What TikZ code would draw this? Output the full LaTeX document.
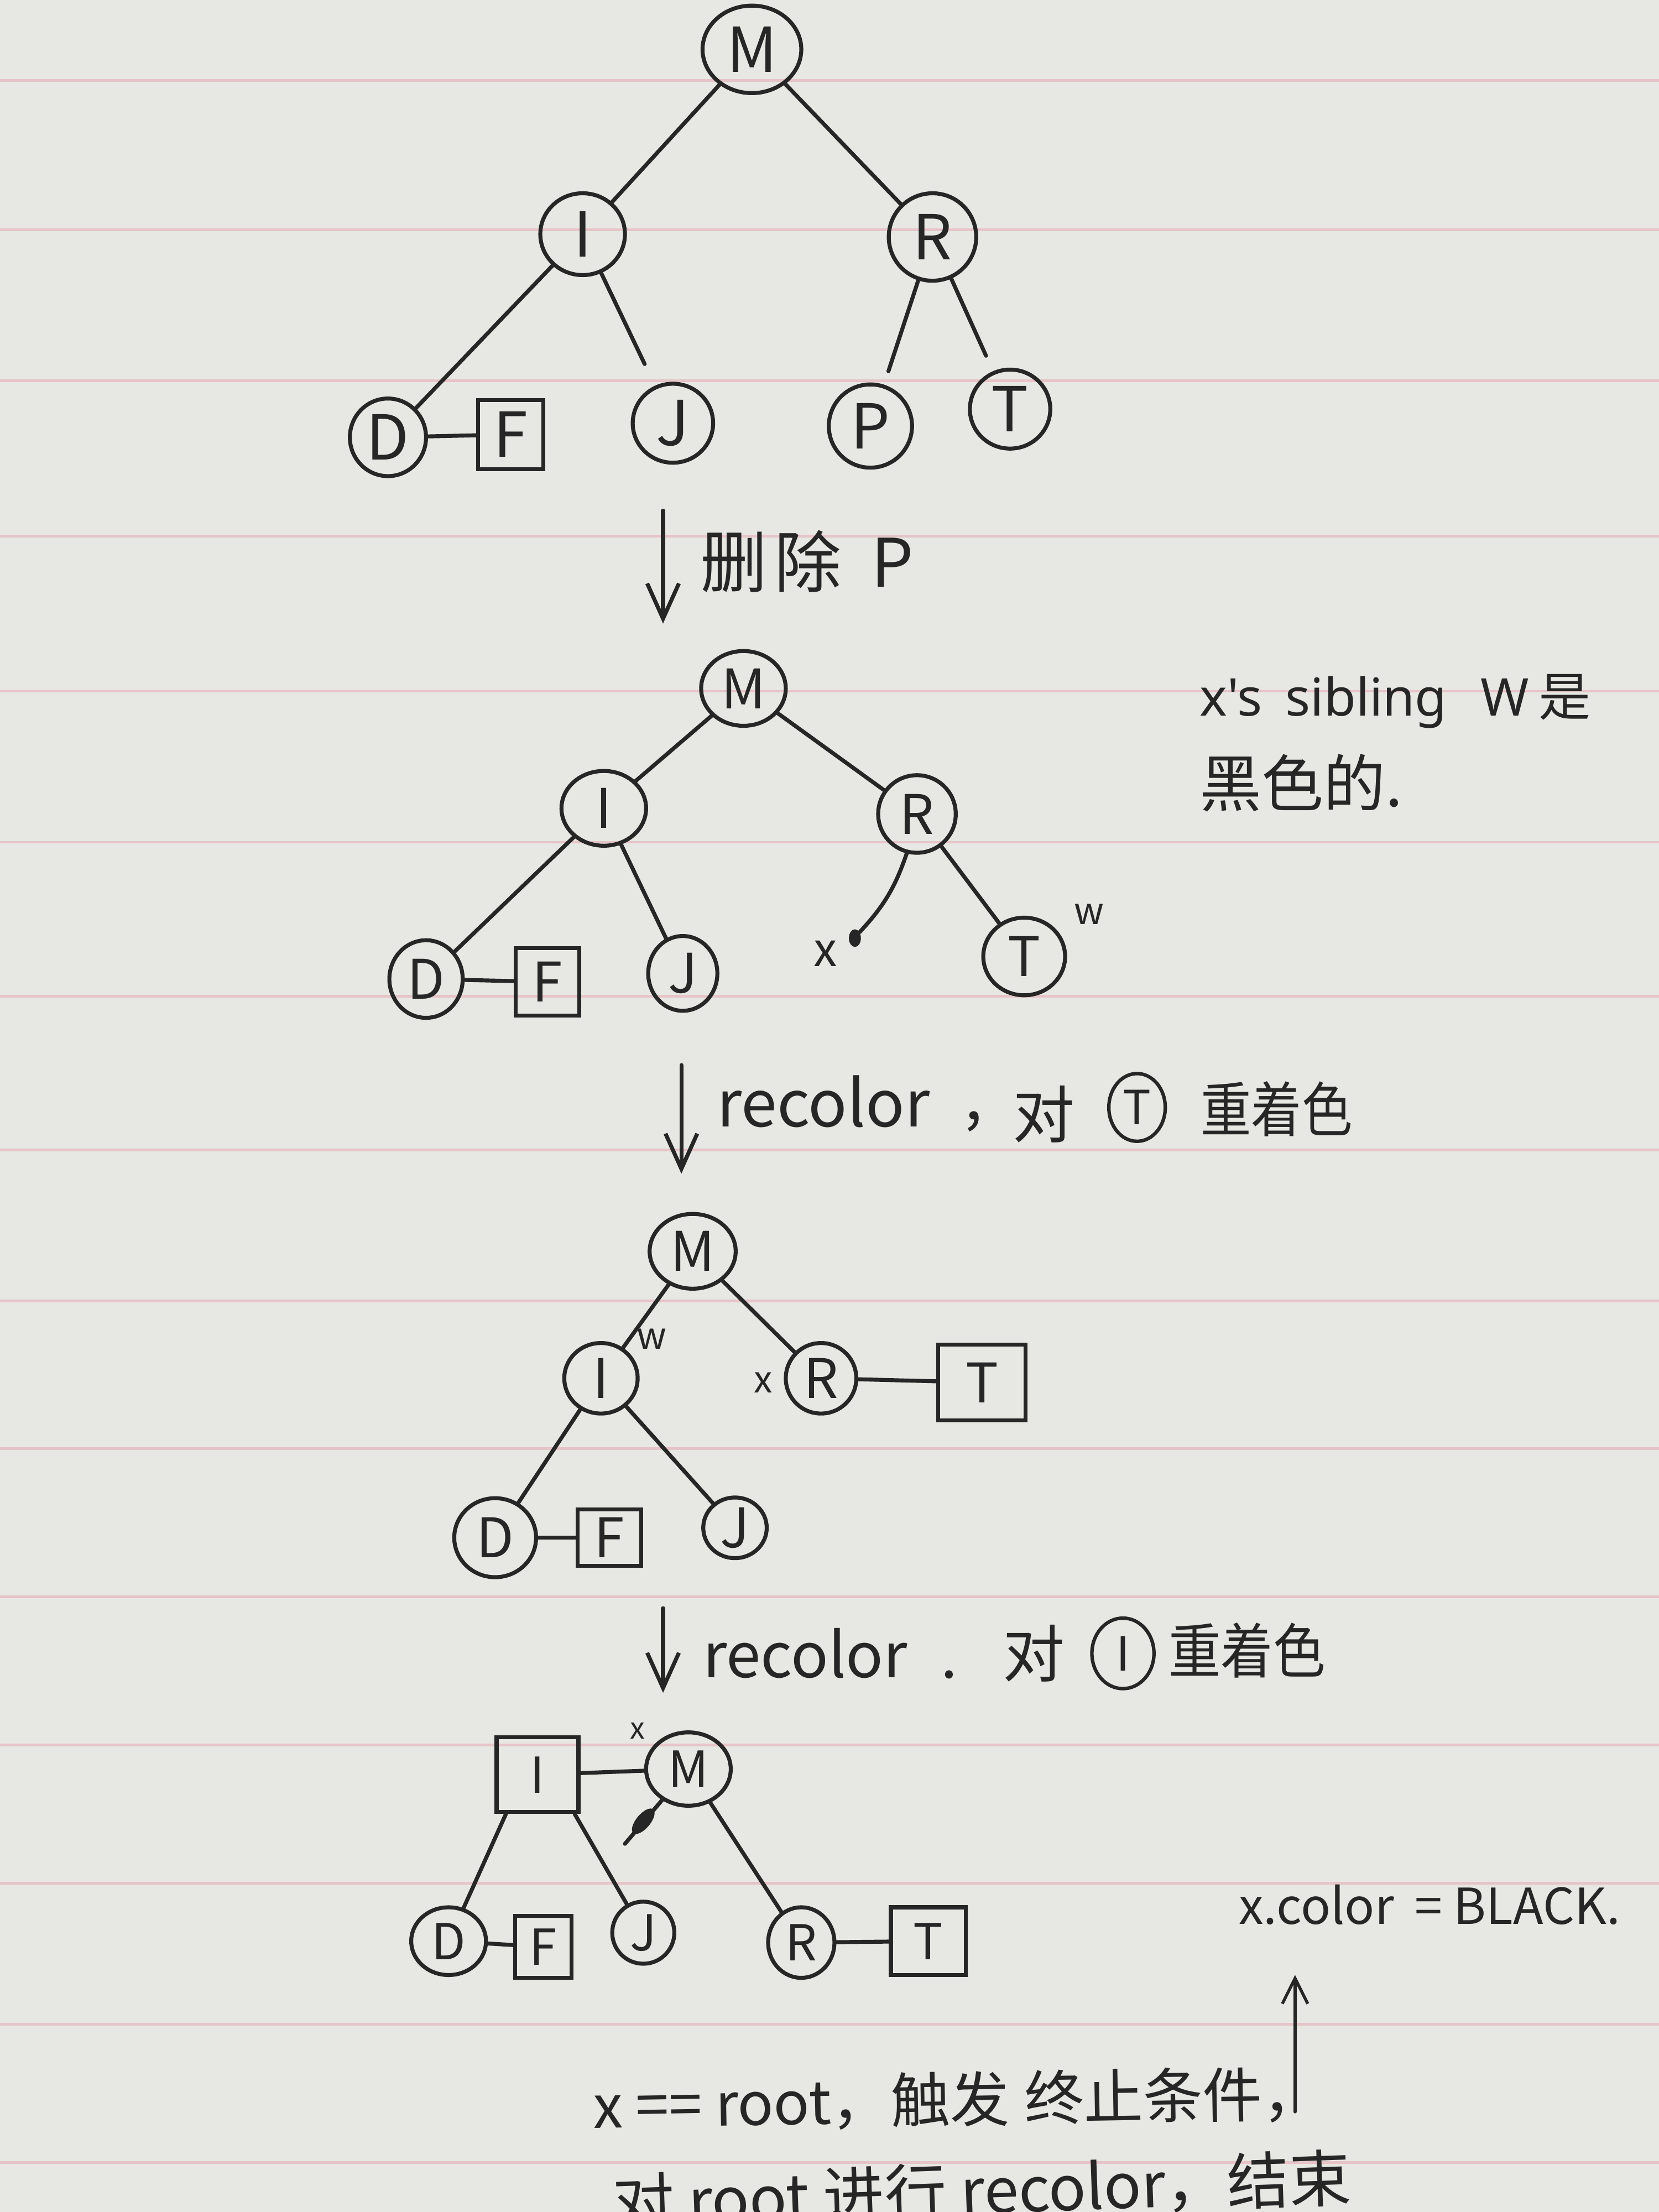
\documentclass[tikz,border=0pt]{standalone}
\usepackage{fontspec}
\usepackage{graphicx}
\setmainfont{Noto Sans CJK SC}
\newfontfamily\latinf{Noto Sans}
\usetikzlibrary{shapes.geometric,arrows.meta}
\definecolor{paper}{HTML}{E7E7E3}
\definecolor{inkc}{HTML}{262626}
\definecolor{rulec}{HTML}{E6C4C8}
\newcommand{\hwfs}[1]{\fontsize{#1}{#1}\selectfont}
\begin{document}
\begin{tikzpicture}[x=0.02cm,y=-0.02cm,
  conn/.style={draw=inkc, line width=1.6pt, line cap=round},
  cn/.style={ellipse, draw=inkc, line width=1.6pt, inner sep=0pt, text=inkc, font=\hwfs{22pt}},
  sq/.style={rectangle, draw=inkc, line width=1.6pt, inner sep=0pt, text=inkc, font=\hwfs{22pt}},
  sz/.style 2 args={minimum width=#1*0.02cm, minimum height=#2*0.02cm},
  arr/.style={draw=inkc, line width=1.6pt, line cap=round, -{Straight Barb[length=0.5cm, width=0.45cm]}},
  lbl/.style={text=inkc, inner sep=0pt},
  small/.style={text=inkc, inner sep=0pt, font=\hwfs{15pt}},
  dotmark/.style={ellipse, fill=inkc, inner sep=0pt},
]
\useasboundingbox (0,0) rectangle (1176,1568);
\clip (0,0) rectangle (1176,1568);
\fill[paper] (0,0) rectangle (1176,1568);
\foreach \yy in {57,163,270,380,490,597,706,815,922,1027,1132,1237,1335,1435,1533}
  \draw[rulec, line width=1.1pt] (0,\yy) -- (1176,\yy);

% ---------- Tree 1 ----------
\begin{scope}[cn/.append style={font=\hwfs{25pt}}, sq/.append style={font=\hwfs{25pt}}]
\node[cn, sz={70}{62}] (M1) at (533,35) {M};
\node[cn, sz={60}{58}] (I1) at (413,166) {I};
\node[cn, sz={62}{62}] (R1) at (661,168) {R};
\node[cn, sz={54}{55}] (D1) at (275,310) {D};
\node[sq, sz={46}{49}] (F1) at (362,308) {F};
\node[cn, sz={57}{56}] (J1) at (477,300) {J};
\node[cn, sz={59}{59}] (P1) at (617,302) {P};
\node[cn, sz={57}{56}] (T1) at (716,290) {T};
\end{scope}
\draw[conn] (M1) -- (I1);
\draw[conn] (M1) -- (R1);
\draw[conn] (I1) -- (D1);
\draw[conn, shorten >=0.34cm] (I1) -- (J1);
\draw[conn] (D1) -- (F1);
\draw[conn, shorten >=0.2cm] (R1) -- (P1);
\draw[conn, shorten >=0.24cm] (R1) -- (T1);

% arrow 1
\coordinate (a1s) at (470,362);
\coordinate (a1e) at (470,442);
\draw[arr] (a1s) -- (a1e);
\node[lbl, font=\hwfs{27pt}, anchor=west] (t1) at (496,398) {删\hspace{3pt}除\hspace{12pt}P};

% ---------- Tree 2 ----------
\node[cn, sz={60}{53}] (M2) at (527,488) {M};
\node[cn, sz={60}{53}] (I2) at (428,573) {I};
\node[cn, sz={55}{55}] (R2) at (650,577) {R};
\node[cn, sz={52}{55}] (D2) at (302,694) {D};
\node[sq, sz={45}{48}] (F2) at (388,696) {F};
\node[cn, sz={49}{53}] (J2) at (484,690) {J};
\node[dotmark, minimum width=0.17cm, minimum height=0.25cm] (xd) at (606,665) {};
\node[small, font=\hwfs{19pt}] (xl2) at (585,676) {x};
\node[cn, sz={58}{55}] (T2) at (726,678) {T};
\node[small] (wl2) at (772,648) {w};
\draw[conn] (M2) -- (I2);
\draw[conn] (M2) -- (R2);
\draw[conn] (I2) -- (D2);
\draw[conn] (I2) -- (J2);
\draw[conn] (D2) -- (F2);
\draw[conn] (R2) to[bend left=12] (xd);
\draw[conn] (R2) -- (T2);

% note
\node[lbl, font=\hwfs{21pt}, anchor=west] (n1) at (850,497) {{\latinf x's\hspace{4pt} sibling\hspace{8pt} W}\hspace{4pt}是};
\node[lbl, font=\hwfs{25pt}, anchor=west] (n2) at (850,555) {黑色的.};

% arrow 2
\coordinate (a2s) at (483,755);
\coordinate (a2e) at (483,832);
\draw[arr] (a2s) -- (a2e);
\node[lbl, font=\hwfs{26pt}, anchor=west] (rc1) at (508,781) {recolor};
\node[lbl, font=\hwfs{26pt}] (cm1) at (690,795) {,};
\node[lbl, font=\hwfs{25pt}] (dui1) at (740,790) {对};
\node[cn, sz={40}{48}, line width=1.4pt, font=\hwfs{19pt}] (cT) at (806,785) {T};
\node[lbl, font=\hwfs{24pt}] (zz1) at (905,786) {\scalebox{0.85}[1]{重着色}};

% ---------- Tree 3 ----------
\node[cn, sz={61}{53}] (M3) at (491,887) {M};
\node[cn, sz={52}{50}] (I3) at (426,977) {I};
\node[small] (wl3) at (462,949) {w};
\node[small] (xl3) at (541,980) {x};
\node[cn, sz={50}{50}] (R3) at (582,977) {R};
\node[sq, sz={62}{54}] (T3) at (696,980) {T};
\node[cn, sz={58}{56}] (D3) at (351,1090) {D};
\node[sq, sz={45}{40}] (F3) at (432,1090) {F};
\node[cn, sz={45}{43}] (J3) at (521,1083) {J};
\draw[conn] (M3) -- (I3);
\draw[conn] (M3) -- (R3);
\draw[conn] (I3) -- (D3);
\draw[conn] (I3) -- (J3);
\draw[conn] (D3) -- (F3);
\draw[conn] (R3) -- (T3);

% arrow 3
\coordinate (a3s) at (470,1140);
\coordinate (a3e) at (470,1200);
\draw[arr] (a3s) -- (a3e);
\node[lbl, font=\hwfs{25pt}, anchor=west] (rc2) at (498,1172) {recolor};
\node[lbl, font=\hwfs{24pt}] (cm2) at (673,1187) {.};
\node[lbl, font=\hwfs{25pt}] (dui2) at (733,1172) {对};
\node[cn, sz={44}{50}, line width=1.4pt, font=\hwfs{19pt}] (cI) at (796,1172) {I};
\node[lbl, font=\hwfs{24pt}] (zz2) at (884,1170) {\scalebox{0.88}[1]{重着色}};

% ---------- Tree 4 ----------
\begin{scope}[cn/.append style={font=\hwfs{20pt}}, sq/.append style={font=\hwfs{20pt}}]
\node[sq, sz={58}{53}] (I4) at (381,1258) {I};
\node[cn, sz={60}{52}] (M4) at (488,1254) {M};
\node[small, font=\hwfs{12pt}] (xl4) at (452,1227) {x};
\coordinate (bt) at (443,1307);
\node[dotmark, minimum width=0.2cm, minimum height=0.44cm, rotate=-40] (blob) at (456,1291) {};
\node[cn, sz={53}{48}] (D4) at (318,1376) {D};
\node[sq, sz={40}{44}] (F4) at (385,1380) {F};
\node[cn, sz={44}{44}] (J4) at (456,1370) {J};
\node[cn, sz={47}{50}] (R4) at (568,1377) {R};
\node[sq, sz={53}{48}] (T4) at (658,1376) {T};
\end{scope}
\coordinate (i4a) at ([xshift=0.16cm]I4.south west);
\coordinate (i4b) at ([xshift=-0.08cm]I4.south east);
\draw[conn] (I4) -- (M4);
\draw[conn] (M4) -- (bt);
\draw[conn] (i4a) -- (D4);
\draw[conn] (i4b) -- (J4);
\draw[conn] (M4) -- (R4);
\draw[conn] (D4) -- (F4);
\draw[conn] (R4) -- (T4);

% right note
\node[lbl, font=\hwfs{20pt}, anchor=west] (xc) at (878,1350) {x.color\hspace{4pt} = BLACK.};
\coordinate (uas) at (918,1497);
\coordinate (uae) at (918,1400);
\draw[arr, line width=1.2pt, -{Straight Barb[length=0.36cm, width=0.36cm]}] (uas) -- (uae);

% bottom text
\node[lbl, font=\hwfs{24pt}, anchor=west, rotate=1] (b1) at (420,1493) {x == root，触发\hspace{6pt}终止条件，};
\node[lbl, font=\hwfs{25pt}, anchor=west, rotate=2] (b2) at (434,1562) {对 root 进行 recolor，结束};
\end{tikzpicture}
\end{document}
